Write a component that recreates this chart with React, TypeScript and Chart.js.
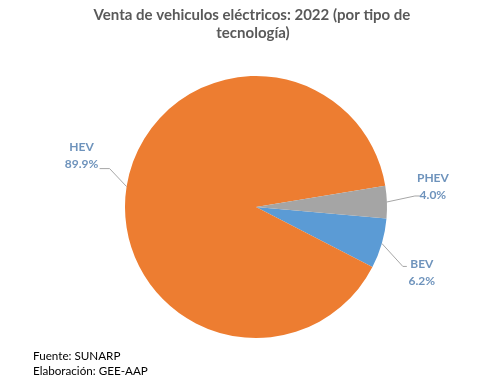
import React, { useEffect, useRef } from "react";
import { Chart, registerables } from "chart.js";

Chart.register(...registerables);

const categories = ["BEV", "HEV", "PHEV"];
const shares = [6.2, 89.9, 4.0];
const sliceColors = ["#5B9BD5", "#ED7D31", "#A5A5A5"];
const titleLines = ["Venta de vehiculos eléctricos: 2022 (por tipo de", "tecnología)"];
const notes = ["Fuente: SUNARP", "Elaboración: GEE-AAP"];

// leader-line offsets relative to the slice edge point: [elbowDx, elbowDy, endDx, textCx, textDy1, textDy2]
const leaderStyle: Record<string, number[]> = {
  BEV: [21, 23, 25, 40, 21, 38],
  HEV: [-17, -18, -27, -45, -39, -22],
  PHEV: [28, -6, 33, 46, -24, -7],
};

const FONT = "Lato, 'Open Sans', 'DejaVu Sans', sans-serif";

function fitFont(ctx: CanvasRenderingContext2D, text: string, weight: string, target: number) {
  ctx.font = `${weight} 100px ${FONT}`;
  const w = ctx.measureText(text).width;
  return (100 * target) / w;
}

const labelPlugin = {
  id: "customLabels",
  afterDraw(chart: any) {
    const ctx: CanvasRenderingContext2D = chart.ctx;
    const meta = chart.getDatasetMeta(0);
    ctx.save();
    // title
    const ts = fitFont(ctx, titleLines[0], "bold", 317);
    ctx.font = `bold ${ts}px ${FONT}`;
    ctx.fillStyle = "#595959";
    ctx.textAlign = "center";
    ctx.textBaseline = "middle";
    ctx.fillText(titleLines[0], 252, 15);
    ctx.fillText(titleLines[1], 253, 33);

    // notes
    const ns = fitFont(ctx, notes[1], "normal", 115);
    ctx.font = `normal ${ns}px ${FONT}`;
    ctx.fillStyle = "#000000";
    ctx.textAlign = "left";
    ctx.fillText(notes[0], 33, 356);
    ctx.fillText(notes[1], 33, 371);

    // data labels
    meta.data.forEach((arc: any, i: number) => {
      const p = arc.getProps(["x", "y", "startAngle", "endAngle", "outerRadius"], true);
      const mid = (p.startAngle + p.endAngle) / 2;
      const ex = p.x + p.outerRadius * Math.cos(mid);
      const ey = p.y + p.outerRadius * Math.sin(mid);
      const s = leaderStyle[categories[i]];
      ctx.strokeStyle = "#A6A6A6";
      ctx.lineWidth = 1;
      ctx.beginPath();
      ctx.moveTo(ex, ey);
      ctx.lineTo(ex + s[0], ey + s[1]);
      ctx.lineTo(ex + s[2], ey + s[1]);
      ctx.stroke();
      ctx.font = `bold 12px ${FONT}`;
      ctx.fillStyle = "#6E93BC";
      ctx.textAlign = "center";
      ctx.textBaseline = "middle";
      const cx = ex + s[3];
      ctx.fillText(categories[i], cx, ey + s[4]);
      ctx.fillText(shares[i].toFixed(1) + "%", cx, ey + s[5]);
    });
    ctx.restore();
  },
};

export default function App() {
  const ref = useRef<HTMLCanvasElement>(null);
  useEffect(() => {
    document.body.style.margin = "0";
    const chart = new Chart(ref.current!, {
      type: "pie",
      data: {
        labels: categories,
        datasets: [
          {
            data: shares,
            backgroundColor: sliceColors,
            borderWidth: 0,
          },
        ],
      },
      options: {
        responsive: false,
        animation: false,
        rotation: 95,
        layout: { padding: { left: 125, right: 109, top: 76, bottom: 54 } },
        plugins: {
          legend: { display: false },
          tooltip: { enabled: false },
          title: { display: false },
        },
      },
      plugins: [labelPlugin],
    });
    return () => chart.destroy();
  }, []);
  return (
    <div style={{ width: 496, height: 392, background: "#fff" }}>
      <canvas ref={ref} width={496} height={392} />
    </div>
  );
}
